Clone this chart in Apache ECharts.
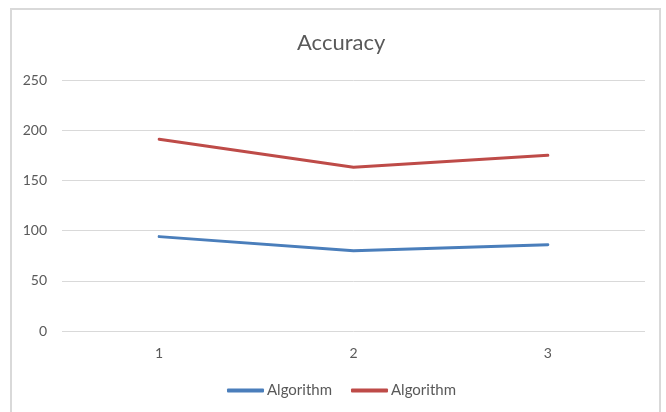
<!DOCTYPE html>
<html><head><meta charset="utf-8">
<script src="https://cdn.jsdelivr.net/npm/echarts@6/dist/echarts.min.js"></script>
<style>
html,body{margin:0;padding:0;background:#fff;}
#frame{position:absolute;left:10px;top:8px;width:651px;height:420px;border:2px solid #d9d9d9;box-sizing:border-box;}
#c{position:absolute;left:0;top:0;width:666px;height:412px;}
</style></head>
<body>
<div id="frame"></div>
<div id="c"></div>
<script>
const categories = ['1', '2', '3'];
const seriesNames = ['Algorithm', 'Algorithm'];
const blueValues = [94, 80, 86];
const redValues = [191, 163, 175];
const yTicks = [0, 50, 100, 150, 200, 250];

const chart = echarts.init(document.getElementById('c'), null, {renderer: 'canvas'});
const font = 'Lato, "Open Sans", sans-serif';
chart.setOption({
  animation: false,
  title: {
    text: 'Accuracy', left: 292, top: 27,
    textStyle: {fontFamily: font, fontSize: 22, fontWeight: 'normal', color: '#595959'}
  },
  grid: {left: 62, right: 21, top: 80, bottom: 81, containLabel: false},
  legend: {
    bottom: 9, left: 222, itemWidth: 37, itemHeight: 4, itemGap: 19,
    icon: 'roundRect',
    textStyle: {fontFamily: font, fontSize: 15, color: '#595959', padding: [0,0,0,-2]},
    data: [{name: 'A1', icon: 'roundRect'}, {name: 'A2', icon: 'roundRect'}],
    formatter: function(n){ return n === 'A1' ? seriesNames[0] : seriesNames[1]; }
  },
  xAxis: {
    type: 'category', data: categories, boundaryGap: true,
    axisLine: {show: false}, axisTick: {show: false},
    axisLabel: {fontFamily: font, fontSize: 14, color: '#595959', margin: 15}
  },
  yAxis: {
    type: 'value', min: yTicks[0], max: yTicks[yTicks.length-1], interval: 50,
    axisLine: {show: false}, axisTick: {show: false},
    axisLabel: {fontFamily: font, fontSize: 14, color: '#595959', margin: 15},
    splitLine: {lineStyle: {color: '#d9d9d9', width: 1}}
  },
  series: [
    {name: 'A1', type: 'line', data: blueValues, symbol: 'none',
     lineStyle: {color: '#4a7ebb', width: 3, cap: 'round'}, itemStyle: {color: '#4a7ebb'}},
    {name: 'A2', type: 'line', data: redValues, symbol: 'none',
     lineStyle: {color: '#be4b48', width: 3, cap: 'round'}, itemStyle: {color: '#be4b48'}}
  ]
});
</script>
</body></html>
